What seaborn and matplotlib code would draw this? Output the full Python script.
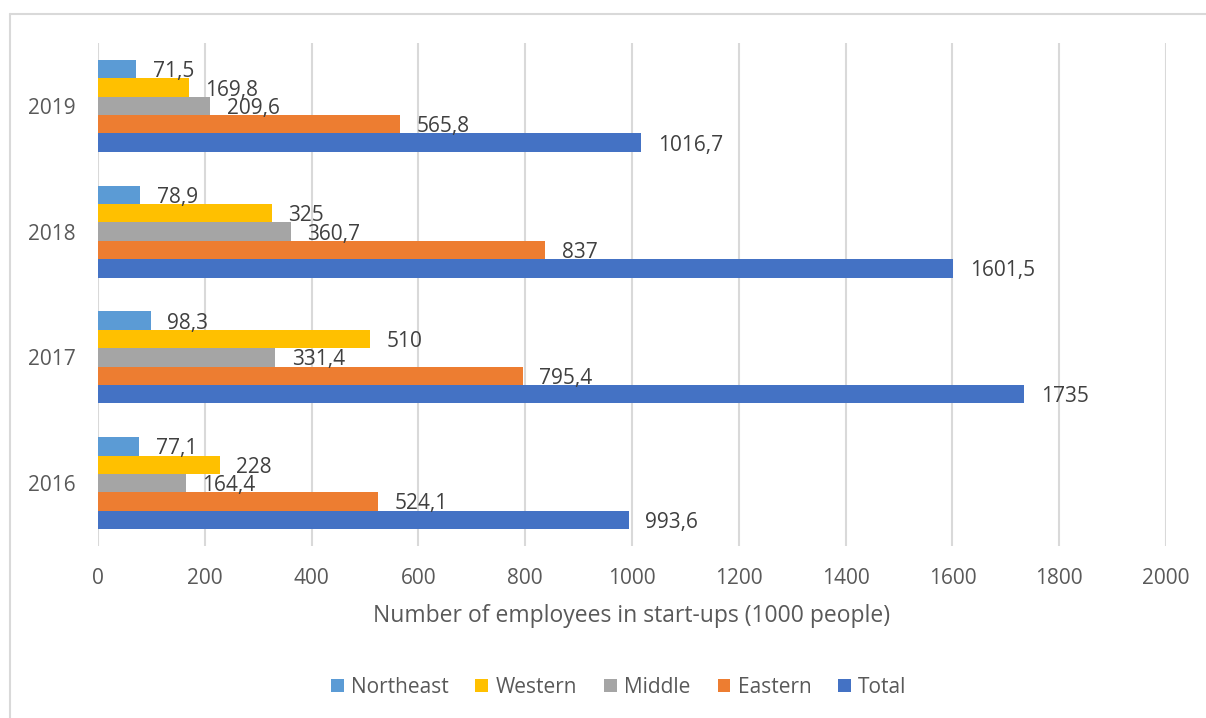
import matplotlib
matplotlib.use("Agg")
import matplotlib.pyplot as plt
import seaborn as sns
import pandas as pd
from matplotlib.lines import Line2D
from matplotlib.patches import Patch

# Data: employees in start-ups by region (thousand people)
years = ["2019", "2018", "2017", "2016"]
regions = ["Northeast", "Western", "Middle", "Eastern", "Total"]
northeast = [71.5, 78.9, 98.3, 77.1]
western = [169.8, 325, 510, 228]
middle = [209.6, 360.7, 331.4, 164.4]
eastern = [565.8, 837, 795.4, 524.1]
total = [1016.7, 1601.5, 1735, 993.6]
x_ticks = [0, 200, 400, 600, 800, 1000, 1200, 1400, 1600, 1800, 2000]

colors = ["#5B9BD5", "#FFC000", "#A5A5A5", "#ED7D31", "#4472C4"]

series = [northeast, western, middle, eastern, total]
rows = []
for reg, vals in zip(regions, series):
    for yr, v in zip(years, vals):
        rows.append({"Year": yr, "Region": reg, "Value": v})
df = pd.DataFrame(rows)

sns.set_theme(style="white")
plt.rcParams["font.family"] = ["Open Sans", "DejaVu Sans"]

fig = plt.figure(figsize=(12.06, 7.18), dpi=100)
ax = fig.add_axes([0.0813, 0.2396, 0.8855, 0.7004])

sns.barplot(data=df, y="Year", x="Value", hue="Region", order=years,
            hue_order=regions, palette=colors, orient="h", width=0.73,
            linewidth=0, saturation=1, ax=ax, legend=False, errorbar=None)

ax.set_xlim(0, 2000)
ax.set_ylim(3.5, -0.5)
ax.set_xticks(x_ticks)
ax.set_xticklabels([str(t) for t in x_ticks])
ax.grid(axis="x", color="#D9D9D9", linewidth=1.5)
ax.grid(axis="y", visible=False)
ax.set_axisbelow(True)
for s in ax.spines.values():
    s.set_visible(False)
ax.tick_params(axis="both", length=0, labelsize=15, labelcolor="#595959")
ax.tick_params(axis="x", pad=16)
ax.tick_params(axis="y", pad=16)
ax.set_ylabel("")
ax.set_xlabel("Number of employees in start-ups (1000 people)",
              fontsize=16.5, color="#595959", labelpad=11)

# Value labels to the right of each bar
for container in ax.containers:
    labels = [f"{b.get_width():g}".replace(".", ",") for b in container]
    texts = ax.bar_label(container, labels=labels, padding=12, fontsize=15,
                         color="#404040")
    for t in texts:
        t.set_verticalalignment("center_baseline")

handles = [Patch(facecolor=c, edgecolor="none") for c in colors]
fig.legend(handles, regions, loc="center", bbox_to_anchor=(0.513, 0.043),
           ncol=5, frameon=False, fontsize=15, handlelength=0.62,
           handleheight=0.62, columnspacing=1.3, handletextpad=0.34,
           labelcolor="#595959")

# Chart area border (left and top edges)
fig.add_artist(Line2D([10 / 1206, 10 / 1206], [0, 1 - 14 / 718],
                      color="#D9D9D9", linewidth=1.5))
fig.add_artist(Line2D([10 / 1206, 1], [1 - 14 / 718, 1 - 14 / 718],
                      color="#D9D9D9", linewidth=1.5))

fig.savefig("out.png", dpi=100)
